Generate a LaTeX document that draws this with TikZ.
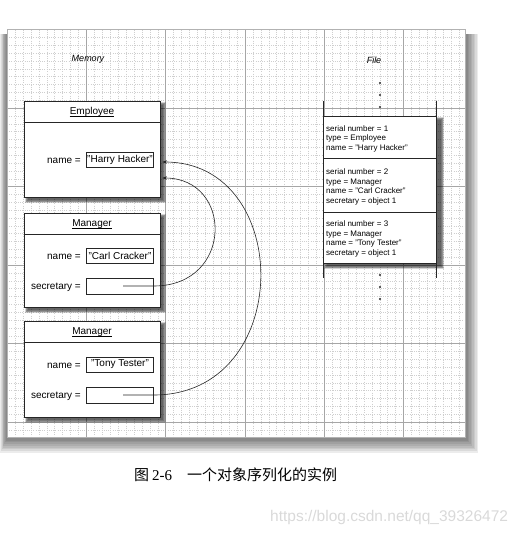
\documentclass[tikz,border=0pt]{standalone}
\usepackage{fontspec}
\setmainfont{Liberation Sans}
\newfontfamily\seriffont{Liberation Serif}
\newfontfamily\cjk{Noto Sans CJK SC}
\usetikzlibrary{arrows.meta,calc}
\tikzset{
  minorgrid/.style={gray!38, line width=0.3pt, dash pattern=on 0.8pt off 1.4pt},
  majorgrid/.style={gray!70, line width=0.5pt},
  objbox/.style={draw=black!85, line width=0.7pt, fill=white, inner sep=0pt, minimum width=136pt},
  valbox/.style={draw=black!85, line width=0.6pt, fill=white, inner sep=0pt, minimum width=67pt, minimum height=15pt, font=\fontsize{10}{12}\selectfont},
  lbl/.style={inner sep=0pt, font=\fontsize{10}{12}\selectfont, anchor=base east},
  ttl/.style={inner sep=0pt, font=\fontsize{10}{12}\selectfont, anchor=base},
  rec/.style={draw=black!85, line width=0.6pt, fill=white, inner sep=0pt, minimum width=113pt},
  rectext/.style={inner sep=0pt, anchor=north west, align=left, font=\fontsize{8}{9.5}\selectfont},
  ptr/.style={black!85, line width=0.6pt},
  dotm/.style={circle, fill=black!85, inner sep=0pt, minimum size=2.2pt},
  heading/.style={font=\fontsize{9}{11}\selectfont\itshape, inner sep=0pt},
  shade/.style={black, opacity=0.17},
}
\newcommand\softshadow[4]{%
  \foreach \e in {0,0.8,1.6,2.4,3.2}{\fill[shade] ({#1-\e},{#2-\e}) rectangle ({#3+\e},{#4+\e});}}
\begin{document}
\begin{tikzpicture}[x=1pt,y=-1pt]
\useasboundingbox (0,0) rectangle (523,533);
% page shadow
\foreach \e in {1,...,8}{\fill[black,opacity=0.075] ({7-\e*0.9},34) rectangle ({466+\e*1.5},{439+\e*1.7});}
% page
\fill[white] (7,29.5) rectangle (465,437);
\foreach \i in {0,...,57} \draw[minorgrid] ({7+\i*7.93},29.5) -- ({7+\i*7.93},437);
\foreach \j in {0,...,51} \draw[minorgrid] (7,{29.5+\j*7.85}) -- (465,{29.5+\j*7.85});
\foreach \i in {0,...,5} \draw[majorgrid] ({7+\i*79.3},29.5) -- ({7+\i*79.3},437);
\foreach \j in {0,...,5} \draw[majorgrid] (7,{29.5+\j*78.5}) -- (465,{29.5+\j*78.5});
\draw[gray!60, line width=0.4pt] (7,29.5) rectangle (465,437);

% headings
\node[heading] (mem) at (88,59) {Memory};
\node[heading] (fil) at (374,60) {File};

% object shadows
\softshadow{28}{105}{163}{200}
\softshadow{28}{217}{163}{310}
\softshadow{28}{325}{163}{420}
\softshadow{327}{120}{441}{266}

% Employee
\node[objbox, minimum height=96pt] (emp) at (92,149) {};
\draw[black!85, line width=0.6pt] ($(emp.north west)+(0,22)$) -- ($(emp.north east)+(0,22)$);
\node[ttl] (t1) at (92,114.5) {Employee};
\draw[line width=0.5pt] ($(t1.base west)+(0,1.8)$) -- ($(t1.base east)+(0,1.8)$);
\node[lbl] (n1) at (81,163) {name =};
\node[valbox] (hh) at (120,159.5) {"Harry Hacker"};

% Manager 1
\node[objbox, minimum height=94pt] (mg1) at (92,260) {};
\draw[black!85, line width=0.6pt] ($(mg1.north west)+(0,22)$) -- ($(mg1.north east)+(0,22)$);
\node[ttl] (t2) at (92,226.7) {Manager};
\draw[line width=0.5pt] ($(t2.base west)+(0,1.8)$) -- ($(t2.base east)+(0,1.8)$);
\node[lbl] (n2) at (81,259) {name =};
\node[valbox] (cc) at (120,255.5) {"Carl Cracker"};
\node[lbl] (sl1) at (81,289.5) {secretary =};
\node[valbox, minimum height=16pt] (s1) at (120,286) {};

% Manager 2
\node[objbox, minimum height=96pt] (mg2) at (92,369) {};
\draw[black!85, line width=0.6pt] ($(mg2.north west)+(0,22)$) -- ($(mg2.north east)+(0,22)$);
\node[ttl] (t3) at (92,334.3) {Manager};
\draw[line width=0.5pt] ($(t3.base west)+(0,1.8)$) -- ($(t3.base east)+(0,1.8)$);
\node[lbl] (n3) at (81,368) {name =};
\node[valbox] (tt) at (120,364.5) {"Tony Tester"};
\node[lbl] (sl2) at (81,398.5) {secretary =};
\node[valbox, minimum height=16pt] (s2) at (120,395) {};

% pointers
\coordinate (p1) at ($(s1.center)+(3,0)$);
\coordinate (p2) at ($(s2.center)+(3,0)$);
\coordinate (a1) at ($(emp.east)+(2,29)$);
\coordinate (a2) at ($(emp.east)+(2,13)$);
\draw[ptr,-{Stealth[length=4.5pt,width=3.5pt]}] (p1) -- (s1.east) .. controls +(80,0) and +(71,0) .. (a1);
\draw[ptr,-{Stealth[length=4.5pt,width=3.5pt]}] (p2) -- (s2.east) .. controls +(141,0) and +(132,0) .. (a2);

% File column
\coordinate (cl1) at (323,101);
\coordinate (cl2) at (323,278);
\coordinate (cr1) at (436,101);
\coordinate (cr2) at (436,278);
\node[rec, minimum height=42pt] (r1) at (379.5,137) {};
\node[rec, minimum height=54pt] (r2) at (379.5,185) {};
\node[rec, minimum height=51pt] (r3) at (379.5,237.5) {};
\draw[black!85, line width=0.6pt] (cl1) -- (cl2);
\draw[black!85, line width=0.6pt] (cr1) -- (cr2);
\node[rectext] (rt1) at (326,125.5) {serial number = 1\\type = Employee\\name = "Harry Hacker"};
\node[rectext] (rt2) at (326,168.6) {serial number = 2\\type = Manager\\name = "Carl Cracker"\\secretary = object 1};
\node[rectext] (rt3) at (326,220.6) {serial number = 3\\type = Manager\\name = "Tony Tester"\\secretary = object 1};
\node[dotm] (d1) at (380,83) {};
\node[dotm] (d2) at (380,95) {};
\node[dotm] (d3) at (380,107) {};
\node[dotm] (d4) at (380,275) {};
\node[dotm] (d5) at (380,287) {};
\node[dotm] (d6) at (380,299) {};

% caption
\node[anchor=west, inner sep=0pt, font=\fontsize{15}{18}\selectfont] (cap) at (134,475)
  {{\cjk 图}\hspace{3pt}{\seriffont 2-6}\hspace{15pt}{\cjk 一个对象序列化的实例}};
% watermark
\node[anchor=west, inner sep=0pt, text=gray!30, font=\fontsize{15.5}{18}\selectfont] (wm) at (270,517)
  {https://blog.csdn.net/qq\_39326472};
\end{tikzpicture}
\end{document}
